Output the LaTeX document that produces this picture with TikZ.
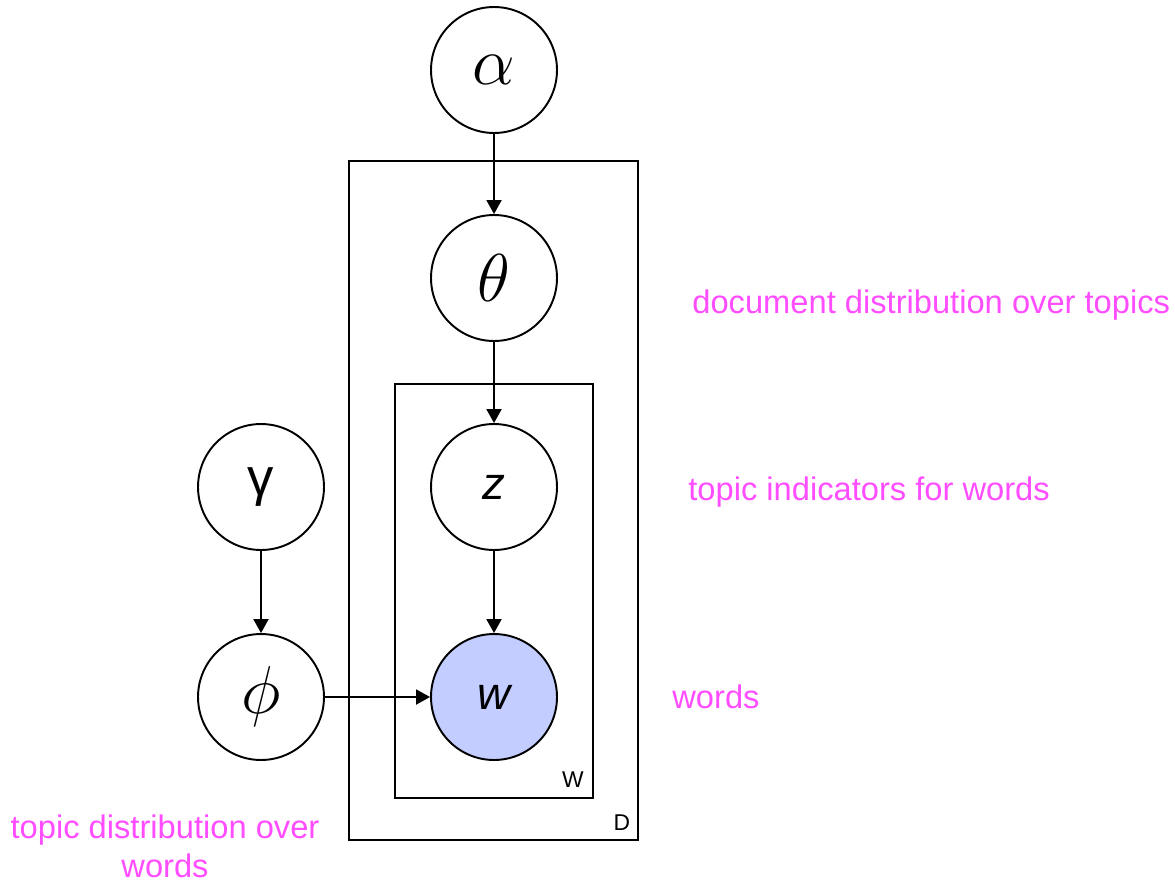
\documentclass[tikz,border=0pt]{standalone}
\usepackage{graphicx}
\usepackage{fontspec}
\setmainfont{Liberation Sans}
\usepackage{tikz}
\usetikzlibrary{arrows.meta,positioning,fit}
\definecolor{ink}{HTML}{000000}
\definecolor{note}{HTML}{FF4DFF}
\definecolor{obsfill}{HTML}{C3CDFF}
\newcommand{\bigsym}[1]{\scalebox{1.55}{$#1$}}
\tikzset{
  >={Triangle[length=2.8mm,width=3mm]},
  var/.style={circle,draw=ink,fill=white,line width=1.1pt,minimum size=2.52cm,inner sep=0pt,font=\Huge},
  obs/.style={var,fill=obsfill},
  plate/.style={draw=ink,line width=1.1pt,inner sep=0pt},
  platelabel/.style={font=\fontsize{13}{13}\selectfont,anchor=south east,inner sep=0pt},
  flow/.style={->,line width=1.1pt,color=ink},
  remark/.style={text=note,font=\fontsize{18.6}{22}\selectfont,inner sep=0pt},
  letter/.style={font=\fontsize{26}{26}\selectfont\itshape},
}
\begin{document}
\begin{tikzpicture}[x=0.02cm,y=-0.02cm]
  \useasboundingbox (0,0) rectangle (1175,882);
  % plates
  \node[plate,fit={(349,161) (638,840)}] (docplate) {};
  \node[plate,fit={(395,384) (593,798)}] (wordplate) {};
  \node[platelabel] (dlab) at ([xshift=-0.17cm,yshift=0.2cm]docplate.south east) {D};
  \node[platelabel] (wlab) at ([xshift=-0.2cm,yshift=0.22cm]wordplate.south east) {W};
  % variables
  \node[var] (alpha) at (494,70) {\bigsym{\alpha}};
  \node[var] (theta) at (494,278) {\bigsym{\theta}};
  \node[var,letter] (z) at (494,487) {z};
  \node[obs,letter] (w) at (494,697) {w};
  \node[var,font=\fontsize{30}{30}\selectfont] (gamma) at (261,487) {γ};
  \node[var] (phi) at (261,697) {\bigsym{\phi}};
  % edges
  \draw[flow] (alpha) -- (theta);
  \draw[flow] (theta) -- (z);
  \draw[flow] (z) -- (w);
  \draw[flow] (gamma) -- (phi);
  \draw[flow] (phi) -- (w);
  % notes
  \node[remark,anchor=west] (ntheta) at (692,305) {document distribution over topics};
  \node[remark,anchor=west] (nz) at (688,492) {topic indicators for words};
  \node[remark,anchor=west] (nw) at (672,697) {words};
  \node[remark,align=center] (nphi) at (165,846) {topic distribution over\\words};
\end{tikzpicture}
\end{document}
